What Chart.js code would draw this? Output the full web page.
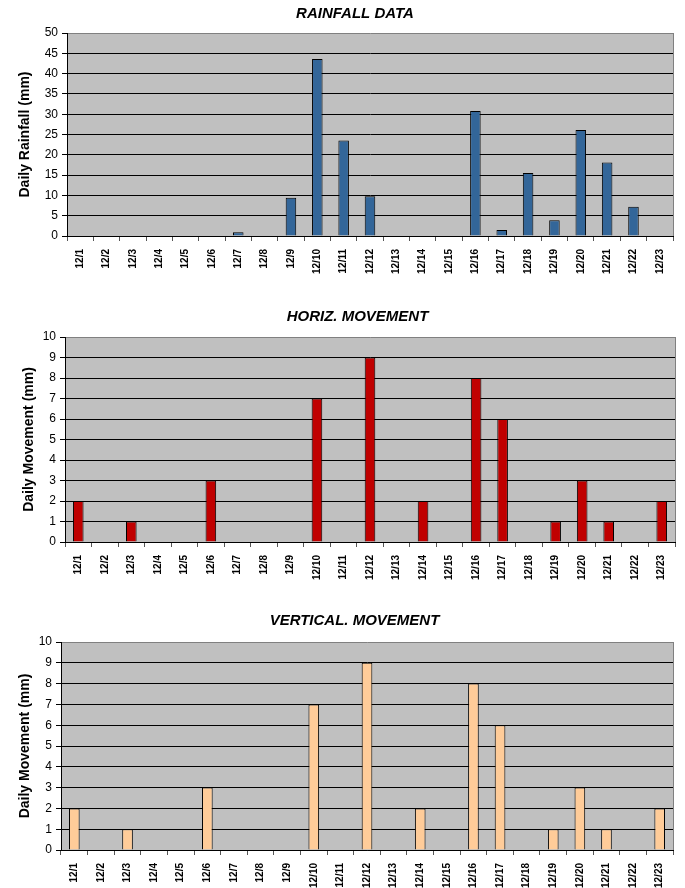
<!DOCTYPE html>
<html>
<head>
<meta charset="utf-8">
<script src="https://cdn.jsdelivr.net/npm/chart.js@4"></script>
<style>
  html, body { margin: 0; padding: 0; background: #fff; }
  canvas { position: absolute; left: 0; }
</style>
</head>
<body>
<canvas id="rain" width="685" height="300" style="top:0"></canvas>
<canvas id="horiz" width="685" height="300" style="top:300px"></canvas>
<canvas id="vert" width="685" height="288" style="top:600px"></canvas>
<script>
const dates = ['12/1','12/2','12/3','12/4','12/5','12/6','12/7','12/8','12/9','12/10','12/11','12/12',
  '12/13','12/14','12/15','12/16','12/17','12/18','12/19','12/20','12/21','12/22','12/23'];
const rainfall = [0.1, 0, 0, 0.1, 0, 0, 0.9, 0, 9.4, 43.6, 23.5, 9.8, 0, 0, 0, 30.8, 1.5, 15.5, 3.9, 26.1, 18.1, 7.2, 0.1];
const horizMovement = [2, 0, 1, 0, 0, 3, 0, 0, 0, 7, 0, 9, 0, 2, 0, 8, 6, 0, 1, 3, 1, 0, 2];
const vertMovement = [2, 0, 1, 0, 0, 3, 0, 0, 0, 7, 0, 9, 0, 2, 0, 8, 6, 0, 1, 3, 1, 0, 2];

const FONT = 'Arial, "Liberation Sans", sans-serif';

// grey plot area + grey right border, like the old Excel charts
const plotBg = {
  id: 'plotBg',
  beforeDraw(chart) {
    const a = chart.chartArea, ctx = chart.ctx;
    ctx.save();
    ctx.fillStyle = '#c0c0c0';
    ctx.fillRect(a.left, a.top, a.right - a.left, a.bottom - a.top);
    ctx.restore();
  },
  afterDraw(chart) {
    const a = chart.chartArea, ctx = chart.ctx;
    ctx.save();
    ctx.strokeStyle = '#808080';
    ctx.lineWidth = 1;
    ctx.beginPath();
    ctx.moveTo(Math.round(a.right) + 0.5, a.top);
    ctx.lineTo(Math.round(a.right) + 0.5, a.bottom);
    ctx.stroke();
    ctx.restore();
  }
};

function makeChart(id, title, yTitle, values, color, yMax, step, g) {
  new Chart(document.getElementById(id), {
    type: 'bar',
    data: {
      labels: dates,
      datasets: [{
        data: values,
        backgroundColor: color,
        borderColor: '#000',
        borderWidth: 1,
        barPercentage: 0.4,
        categoryPercentage: 1
      }]
    },
    options: {
      responsive: false,
      animation: false,
      // left padding only pushes the chart title to the right; y axis keeps its place
      layout: { padding: { left: g.padLeft, right: g.padRight, top: 0, bottom: 0 } },
      plugins: {
        legend: { display: false },
        tooltip: { enabled: false },
        title: {
          display: true,
          text: title,
          color: '#000',
          font: { family: FONT, size: 15, weight: 'bold', style: 'italic' },
          padding: { top: g.titleTop, bottom: g.titleBottom }
        }
      },
      scales: {
        x: {
          grid: { display: true, drawOnChartArea: false, tickLength: 5, tickColor: '#555', offset: true },
          border: { color: '#000' },
          ticks: {
            color: '#000',
            font: { family: FONT, size: 10, weight: 'bold' },
            minRotation: 90, maxRotation: 90,
            autoSkip: false,
            padding: 8
          },
          afterFit(scale) { scale.height = g.xHeight; }
        },
        y: {
          min: 0,
          max: yMax,
          grid: {
            color: ctx => (ctx.tick && ctx.tick.value === yMax) ? '#808080' : '#000',
            tickColor: '#000',
            tickLength: 5
          },
          border: { color: '#000' },
          ticks: {
            stepSize: step,
            color: '#000',
            font: { family: FONT, size: 12 },
            padding: 4
          },
          title: {
            display: true,
            text: yTitle,
            color: '#000',
            font: { family: FONT, size: 14, weight: 'bold' },
            padding: { top: g.yTitleX - g.padLeft - 8.4, bottom: 0 }
          },
          afterFit(scale) { scale.width = g.left - g.padLeft; }
        }
      }
    },
    plugins: [plotBg]
  });
}

makeChart('rain', 'RAINFALL DATA', 'Daily Rainfall (mm)', rainfall, '#336699', 50, 5,
  { left: 67, padLeft: 37, padRight: 12, xHeight: 64, titleTop: 5, titleBottom: 10, yTitleX: 25 });
makeChart('horiz', 'HORIZ. MOVEMENT', 'Daily Movement (mm)', horizMovement, '#c00000', 10, 1,
  { left: 65, padLeft: 40, padRight: 10, xHeight: 58, titleTop: 8, titleBottom: 11, yTitleX: 29.5 });
makeChart('vert', 'VERTICAL. MOVEMENT', 'Daily Movement (mm)', vertMovement, '#ffcc99', 10, 1,
  { left: 61, padLeft: 36, padRight: 12, xHeight: 38, titleTop: 12, titleBottom: 12, yTitleX: 25.5 });
</script>
</body>
</html>
